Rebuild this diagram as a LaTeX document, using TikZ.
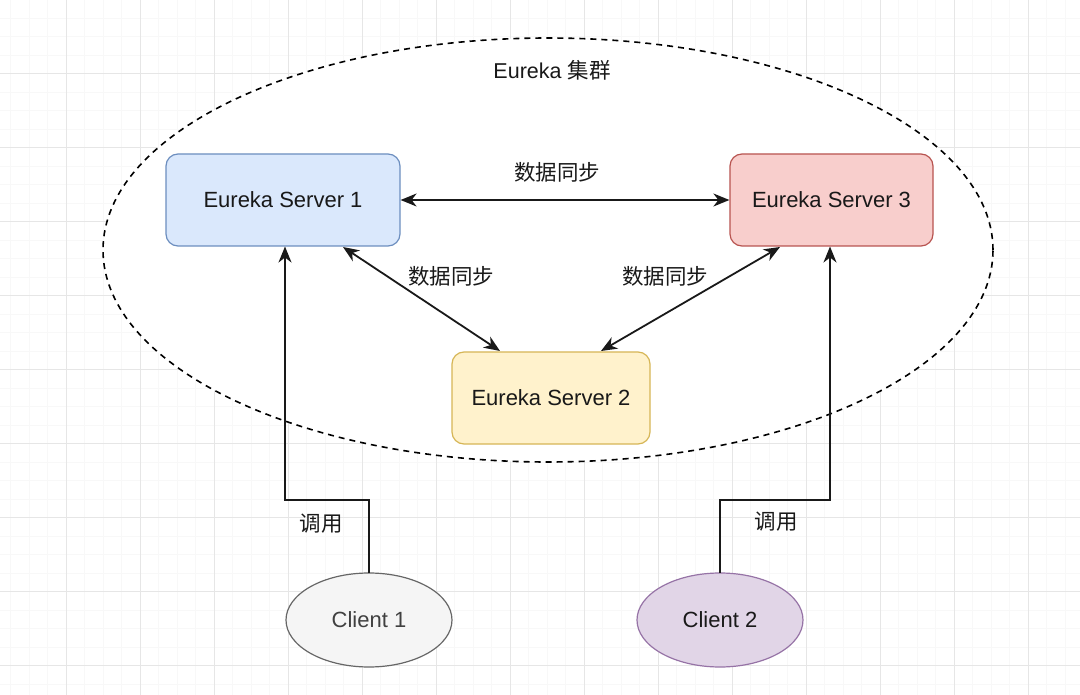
\documentclass[tikz,border=0pt]{standalone}
\usepackage{fontspec}
\setmainfont{Liberation Sans}
\newfontfamily\cjk{Noto Sans CJK SC}
\usetikzlibrary{arrows.meta,shapes.geometric}
\definecolor{gridmajor}{HTML}{E6E6E6}
\definecolor{gridminor}{HTML}{F8F8F8}
\definecolor{sbfill}{HTML}{DAE8FC}\definecolor{sbline}{HTML}{6C8EBF}
\definecolor{srfill}{HTML}{F8CECC}\definecolor{srline}{HTML}{B85450}
\definecolor{syfill}{HTML}{FFF2CC}\definecolor{syline}{HTML}{D6B656}
\definecolor{cgfill}{HTML}{F5F5F5}\definecolor{cgline}{HTML}{666666}
\definecolor{cpfill}{HTML}{E1D5E7}\definecolor{cpline}{HTML}{9673A6}
\tikzset{
  server/.style={draw, rounded corners=12pt, line width=1.2pt, minimum width=234pt, minimum height=92pt, font=\fontsize{22}{25}\selectfont, text=black!90},
  client/.style={draw, ellipse, line width=1.2pt, minimum width=166pt, minimum height=94pt, font=\fontsize{22}{25}\selectfont},
  lbl/.style={font=\cjk\fontsize{21.5}{24}\selectfont, text=black!90},
  conn/.style={line width=1.8pt, black!90},
  tip/.style={-{Stealth[length=16pt,width=13pt,inset=5pt]}},
  dtip/.style={{Stealth[length=16pt,width=13pt,inset=5pt]}-{Stealth[length=16pt,width=13pt,inset=5pt]}},
}
\begin{document}
\begin{tikzpicture}[x=1pt,y=-1pt]
\useasboundingbox (0,0) rectangle (1080,695);
\fill[white] (0,0) rectangle (1080,695);
% grid
\foreach \i in {0,...,60} {
  \draw[gridminor, line width=0.6pt] ({-8+18.5*\i},0) -- ({-8+18.5*\i},695);
}
\foreach \i in {0,...,38} {
  \draw[gridminor, line width=0.6pt] (0,{-0.5+18.5*\i}) -- (1080,{-0.5+18.5*\i});
}
\foreach \i in {0,...,15} {
  \draw[gridmajor, line width=1pt] ({-8+74*\i},0) -- ({-8+74*\i},695);
}
\foreach \i in {0,...,9} {
  \draw[gridmajor, line width=1pt] (0,{-0.5+74*\i}) -- (1080,{-0.5+74*\i});
}
% cluster
\node[draw, dash pattern=on 6pt off 5pt, line width=1.6pt, ellipse, inner sep=0pt, minimum width=890pt, minimum height=424pt, fill=white] (cluster) at (548,250) {};
\node[font=\fontsize{21.5}{24}\selectfont, text=black!90] (title) at (552,70) {Eureka {\cjk 集群}};
% servers
\node[server, fill=sbfill, draw=sbline] (s1) at (283,200) {Eureka Server 1};
\node[server, fill=srfill, draw=srline, minimum width=203pt] (s3) at (831.5,200) {Eureka Server 3};
\node[server, fill=syfill, draw=syline, minimum width=198pt] (s2) at (551,398) {Eureka Server 2};
% clients
\node[client, fill=cgfill, draw=cgline, text=black!75] (c1) at (369,620) {Client 1};
\node[client, fill=cpfill, draw=cpline, text=black!90] (c2) at (720,620) {Client 2};
% sync arrows
\draw[conn, dtip] (s1.east) -- (s3.west);
\node[lbl] (l13) at (557,172) {数据同步};
\coordinate (s1b) at (343,247);
\coordinate (s2a) at (500,351);
\coordinate (s3b) at (780,247);
\coordinate (s2b) at (601,351);
\draw[conn, dtip] (s1b) -- (s2a);
\node[lbl] (l12) at (451,276) {数据同步};
\draw[conn, dtip] (s3b) -- (s2b);
\node[lbl] (l32) at (665,276) {数据同步};
% client connectors
\coordinate (c1t) at (369,573);
\coordinate (c2t) at (720,573);
\coordinate (s1in) at (285,246.5);
\coordinate (s3in) at (830,246.5);
\draw[conn, tip] (c1t) -- (369,500) -- (285,500) -- (s1in);
\node[lbl] (u1) at (321,524) {调用};
\draw[conn, tip] (c2t) -- (720,500) -- (830,500) -- (s3in);
\node[lbl] (u2) at (776,522) {调用};
\end{tikzpicture}
\end{document}
